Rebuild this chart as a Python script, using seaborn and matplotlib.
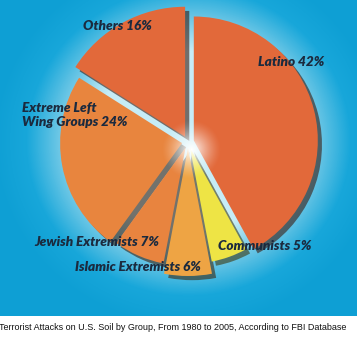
import numpy as np
import matplotlib
matplotlib.use("Agg")
import matplotlib.pyplot as plt
import seaborn as sns
from matplotlib.colors import LinearSegmentedColormap

sns.set_theme(style="white")
plt.rcParams['font.family'] = ['Lato', 'DejaVu Sans']

groups = ["Latino", "Communists", "Islamic Extremists", "Jewish Extremists",
          "Extreme Left\nWing Groups", "Others"]
shares = [42, 5, 6, 7, 24, 16]
colors = ["#E2693A", "#EEE445", "#EEA444", "#E8843F", "#E8853E", "#E2693A"]
label_pos = [(258, 254), (218, 70), (75, 49), (34, 74), (22, 201), (83, 290)]
radii = [124, 116, 128, 118, 122, 130]

W, H = 357, 341
fig = plt.figure(figsize=(W / 100, H / 100), dpi=100)
fig.patch.set_facecolor("white")

BH = 316
bg = fig.add_axes([0, (H - BH) / H, 1, BH / H])
bg.set_xlim(0, W)
bg.set_ylim(0, BH)
bg.axis("off")
cx, cy = 188, BH - 142
yy, xx = np.mgrid[0:BH, 0:W]
d = np.hypot(xx - cx, (yy - cy) * 1.05)
t = np.clip((d - 95) / 100, 0, 1)
cmap = LinearSegmentedColormap.from_list("bg", ["#c6ecf6", "#70c8e6", "#18a7da", "#0e9fd4"])
bg.imshow(cmap(t), extent=(0, W, 0, BH), origin="lower", aspect="auto", zorder=0)

ax = fig.add_axes([0, (H - BH) / H, 1, BH / H])
ax.axis("off")
ax.patch.set_alpha(0)

wedges, _ = ax.pie(shares, colors=colors, startangle=90, counterclock=False,
                   center=(cx, cy), radius=124, explode=[6] * len(shares),
                   wedgeprops=dict(linewidth=0),
                   shadow=dict(ox=3, oy=-3, shade=0.75, alpha=0.6))
for w, r in zip(wedges, radii):
    w.set_radius(r)
ax.set_xlim(0, W)
ax.set_ylim(0, BH)
ax.set_aspect("auto")

g = np.clip(1 - np.hypot(xx - cx - 3, yy - cy + 8) / 30, 0, 1)
glow = np.zeros((BH, W, 4))
glow[..., :3] = 1.0
glow[..., 3] = g ** 1.4
ax.imshow(glow, extent=(0, W, 0, BH), origin="lower", aspect="auto", zorder=5)
ax.set_xlim(0, W)
ax.set_ylim(0, BH)

for (x, y), name, v in zip(label_pos, groups, shares):
    ax.text(x, y, f"{name} {v}%", fontsize=9.8, fontweight="heavy", fontstyle="italic",
            color="#1b2a3e", ha="left", va="center", zorder=10, linespacing=1.2)

fig.text(-0.003, (H - 328) / H,
         "Terrorist Attacks on U.S. Soil by Group, From 1980 to 2005, According to FBI Database",
         fontsize=6.5, family="Liberation Sans", color="#111111", ha="left", va="center")

fig.savefig("out.png", dpi=100, facecolor="white")
